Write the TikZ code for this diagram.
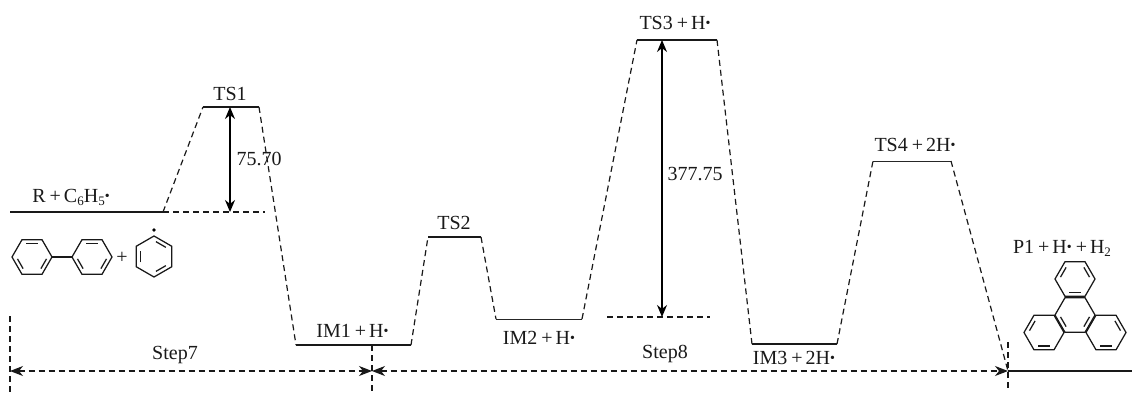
\documentclass[tikz,border=0pt]{standalone}
\usepackage{fontspec}
\setmainfont{Liberation Serif}
\usetikzlibrary{arrows.meta,calc}
\newcommand{\rad}{\raisebox{1.8pt}{\fontsize{14}{14}\selectfont •}}
\newcommand{\pl}{\hspace{4pt}+\hspace{3pt}}
\newcommand{\sbs}[1]{\raisebox{-3.5pt}{\fontsize{13}{13}\selectfont #1}}
\newcommand{\hexring}[5]{% cx cy r startangle list-of-double-edge-indices
  \begin{scope}[shift={(#1,#2)}]
    \draw[mol] (#4:#3) \foreach \k in {1,...,5}{ -- ({#4+60*\k}:#3)} -- cycle;
    \foreach \k in {#5}{
      \draw[mol] ($({#4+60*\k}:#3)!0.14!({#4+60*\k+60}:#3)!0.22!(0,0)$) -- ($({#4+60*\k+60}:#3)!0.14!({#4+60*\k}:#3)!0.22!(0,0)$);
    }
  \end{scope}}
\tikzset{
  level/.style={line width=1.5pt,black!90},
  thinlevel/.style={line width=1pt,black!85},
  conn/.style={line width=1.2pt,dash pattern=on 6pt off 4pt,black!90},
  arr/.style={line width=1.3pt,{Stealth[length=12pt,width=10pt]}-{Stealth[length=12pt,width=10pt]}},
  darr/.style={conn,{Stealth[length=13pt,width=10pt,inset=4pt]}-{Stealth[length=13pt,width=10pt,inset=4pt]}},
  lab/.style={font=\fontsize{20}{22}\selectfont,inner sep=0pt,anchor=base,text=black!90},
  mol/.style={line width=1.25pt,black!90}
}
\begin{document}
\begin{tikzpicture}[x=1pt,y=-1pt]
\useasboundingbox (0,0) rectangle (1132,394);
% level end points
\coordinate (Ra) at (10,212); \coordinate (Rb) at (163,212); \coordinate (Rc) at (265,212);
\coordinate (T1a) at (203,107); \coordinate (T1b) at (259,107);
\coordinate (I1a) at (296,345); \coordinate (I1b) at (411,345);
\coordinate (T2a) at (428,237); \coordinate (T2b) at (481,237);
\coordinate (I2a) at (496,319); \coordinate (I2b) at (582,319);
\coordinate (T3a) at (637,40); \coordinate (T3b) at (717,40);
\coordinate (Ba) at (607,317); \coordinate (Bb) at (710,317);
\coordinate (I3a) at (752,344); \coordinate (I3b) at (837,344);
\coordinate (T4a) at (873,161); \coordinate (T4b) at (951,161);
\coordinate (Pa) at (1008,371); \coordinate (Pb) at (1132,371);
% levels
\draw[level] (Ra) -- (Rb);
\draw[level] (T1a) -- (T1b);
\draw[level] (I1a) -- (I1b);
\draw[level] (T2a) -- (T2b);
\draw[thinlevel] (I2a) -- (I2b);
\draw[level] (T3a) -- (T3b);
\draw[level] (I3a) -- (I3b);
\draw[thinlevel] (T4a) -- (T4b);
\draw[level] (Pa) -- (Pb);
% connectors
\draw[conn] (Rb) -- (Rc);
\draw[conn] (Ba) -- (Bb);
\draw[conn] (Rb) -- (T1a);
\draw[conn] (T1b) -- (I1a);
\draw[conn] (I1b) -- (T2a);
\draw[conn] (T2b) -- (I2a);
\draw[conn] (I2b) -- (T3a);
\draw[conn] (T3b) -- (I3a);
\draw[conn] (I3b) -- (T4a);
\draw[conn] (T4b) -- (Pa);
% energy arrows
\coordinate (A1t) at (230,107); \coordinate (A1b) at (230,212);
\coordinate (A2t) at (662,40); \coordinate (A2b) at (662,317);
\draw[arr] (A1t) -- (A1b);
\draw[arr] (A2t) -- (A2b);
% step boundaries
\coordinate (S0) at (10,371); \coordinate (S1) at (372,371); \coordinate (S2) at (1008,371);
\coordinate (V0a) at (10,316); \coordinate (V0b) at (10,394);
\coordinate (V1a) at (372,345); \coordinate (V1b) at (372,394);
\coordinate (V2a) at (1008,342); \coordinate (V2b) at (1008,390);
\draw[conn] (V0a) -- (V0b);
\draw[conn] (V1a) -- (V1b);
\draw[conn] (V2a) -- (V2b);
\draw[darr] (S0) -- (S1);
\draw[darr] (S1) -- (S2);
% labels (positions are baselines)
\node[lab] (lR) at (71,202) {R\pl C\sbs{6}H\sbs{5}\rad};
\node[lab] (lT1) at (230,100) {TS1};
\node[lab] (lE1) at (259,165) {75.70};
\node[lab] (lI1) at (352.5,337) {IM1\pl H\rad};
\node[lab] (lT2) at (454,229) {TS2};
\node[lab] (lI2) at (539,344) {IM2\pl H\rad};
\node[lab] (lT3) at (675,29.5) {TS3\pl H\rad};
\node[lab] (lE2) at (695,180) {377.75};
\node[lab] (lI3) at (794,364) {IM3\pl 2H\rad};
\node[lab] (lT4) at (915,151) {TS4\pl 2H\rad};
\node[lab] (lP) at (1062,253) {P1\pl H\rad\pl H\sbs{2}};
\node[lab] (lS7) at (175,359) {Step7};
\node[lab] (lS8) at (665,358) {Step8};
% biphenyl + phenyl radical
\hexring{32}{257}{20}{0}{0,2,4}
\hexring{92}{257}{20}{0}{0,2,4}
\coordinate (Bp1) at (52,257); \coordinate (Bp2) at (72,257);
\draw[mol] (Bp1) -- (Bp2);
\node[lab] (plus) at (122,263) {+};
\hexring{154}{256.5}{20.5}{-90}{0,2,4}
\fill[black] (154,230) circle (1.8);
% triphenylene
\hexring{1075}{279}{20}{0}{1,3,5}
\hexring{1075}{315}{20}{0}{0,2}
\hexring{1044}{332.5}{20}{0}{1,3}
\hexring{1106}{332.5}{20}{0}{1,5}
\end{tikzpicture}
\end{document}
